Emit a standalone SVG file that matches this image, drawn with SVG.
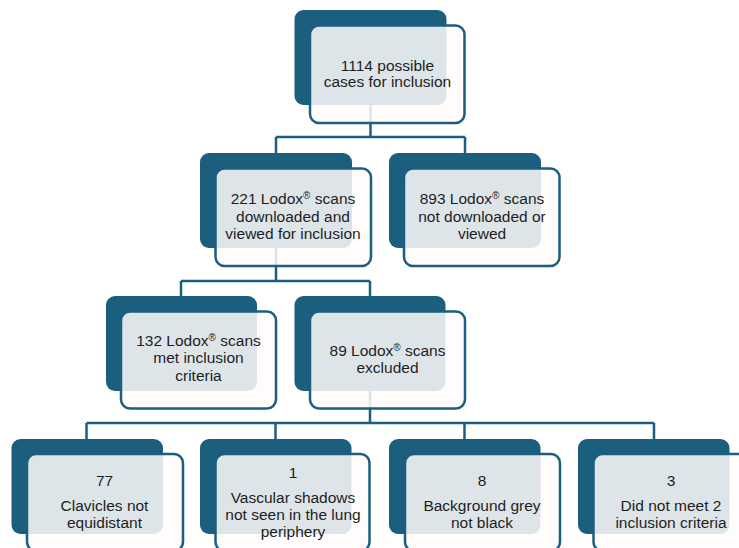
<svg xmlns="http://www.w3.org/2000/svg" width="739" height="548" viewBox="0 0 739 548">
<style>
.bg{fill:#1b5e7e}
.fg{fill:#fffcfa;fill-opacity:0.86;stroke:#1b5e7e;stroke-width:2.5}
.ln{fill:none;stroke:#1b5e7e;stroke-width:2.5}
text{font-family:"Liberation Sans",Arial,sans-serif;font-size:15.5px;fill:#1e1e1e;text-anchor:middle}
.r{font-size:10px}
</style>
<rect width="739" height="548" fill="#ffffff"/>
<g id="connectors">
<path class="ln" d="M370.5,105V137M276,137H465M276,137V153M465,137V153"/>
<path class="ln" d="M276,248V281M181,281H370M181,281V296M370,281V296"/>
<path class="ln" d="M370,391V423M86.5,423H654M86.5,423V439M275.5,423V439M464.5,423V439M654,423V439"/>
</g>
<g id="n_total">
<rect class="bg" x="294.5" y="10" width="152" height="95" rx="9"/>
<rect class="fg" x="310" y="25.5" width="154.5" height="97.5" rx="9"/>
<text x="387.5" y="70.7">1114 possible</text>
<text x="387.5" y="87">cases for inclusion</text>
</g>
<g id="n_221">
<rect class="bg" x="200" y="153" width="152" height="95" rx="9"/>
<rect class="fg" x="215.5" y="168.5" width="155.5" height="97.5" rx="9"/>
<text x="293" y="204">221 Lodox<tspan class="r" dy="-5">®</tspan><tspan dy="5"> scans</tspan></text>
<text x="293" y="221.5">downloaded and</text>
<text x="293" y="239">viewed for inclusion</text>
</g>
<g id="n_893">
<rect class="bg" x="389" y="153" width="152" height="95" rx="9"/>
<rect class="fg" x="404" y="168.5" width="155.5" height="97.5" rx="9"/>
<text x="482" y="204">893 Lodox<tspan class="r" dy="-5">®</tspan><tspan dy="5"> scans</tspan></text>
<text x="482" y="221.5">not downloaded or</text>
<text x="482" y="239">viewed</text>
</g>
<g id="n_132">
<rect class="bg" x="106" y="296" width="151" height="95" rx="9"/>
<rect class="fg" x="121" y="311.5" width="155" height="97" rx="9"/>
<text x="198.5" y="346">132 Lodox<tspan class="r" dy="-5">®</tspan><tspan dy="5"> scans</tspan></text>
<text x="198.5" y="363">met inclusion</text>
<text x="198.5" y="380.5">criteria</text>
</g>
<g id="n_89">
<rect class="bg" x="294.5" y="296" width="151" height="95" rx="9"/>
<rect class="fg" x="310" y="311.5" width="155" height="97" rx="9"/>
<text x="387.5" y="356">89 Lodox<tspan class="r" dy="-5">®</tspan><tspan dy="5"> scans</tspan></text>
<text x="387.5" y="373">excluded</text>
</g>
<g id="n_77">
<rect class="bg" x="11.5" y="439" width="151.5" height="95" rx="9"/>
<rect class="fg" x="27" y="454" width="156" height="97" rx="9"/>
<text x="104.5" y="486">77</text>
<text x="104.5" y="511">Clavicles not</text>
<text x="104.5" y="527.5">equidistant</text>
</g>
<g id="n_1">
<rect class="bg" x="200" y="439" width="151.5" height="95" rx="9"/>
<rect class="fg" x="215.5" y="454" width="154" height="97" rx="9"/>
<text x="293" y="478">1</text>
<text x="293" y="503">Vascular shadows</text>
<text x="293" y="520">not seen in the lung</text>
<text x="293" y="537">periphery</text>
</g>
<g id="n_8">
<rect class="bg" x="389" y="439" width="151.5" height="95" rx="9"/>
<rect class="fg" x="405" y="454" width="155" height="97" rx="9"/>
<text x="482" y="486">8</text>
<text x="482" y="511">Background grey</text>
<text x="482" y="527.5">not black</text>
</g>
<g id="n_3">
<rect class="bg" x="578" y="439" width="151.5" height="95" rx="9"/>
<rect class="fg" x="593.5" y="454" width="155" height="97" rx="9"/>
<text x="671" y="486">3</text>
<text x="671" y="511">Did not meet 2</text>
<text x="671" y="527.5">inclusion criteria</text>
</g>
</svg>
